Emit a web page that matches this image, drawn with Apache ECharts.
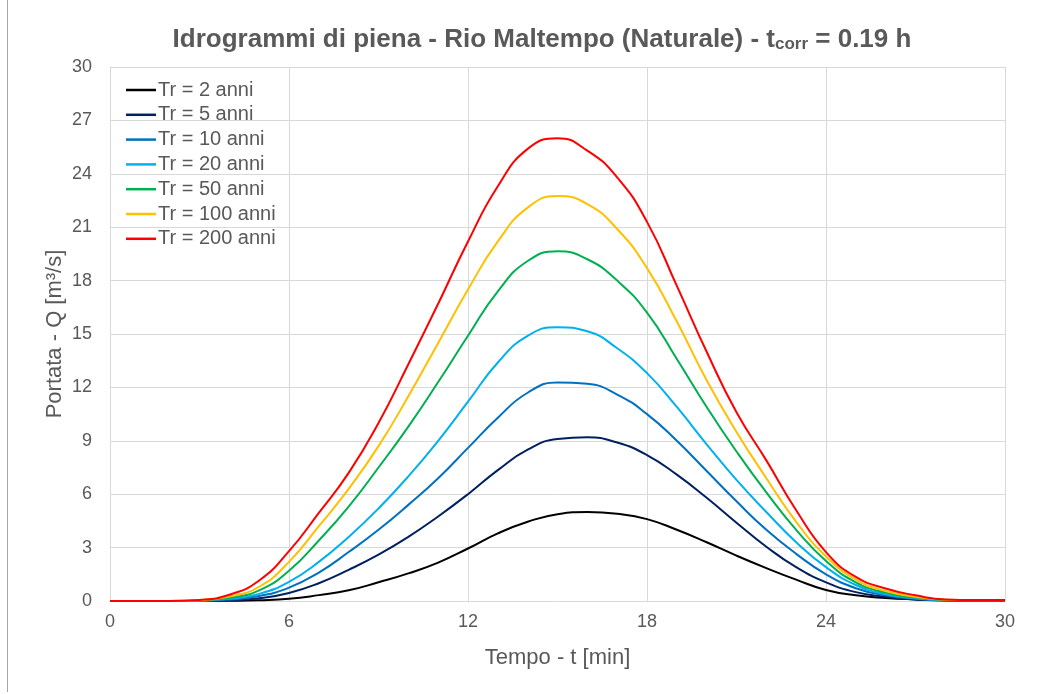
<!DOCTYPE html>
<html>
<head>
<meta charset="utf-8">
<script src="https://cdn.jsdelivr.net/npm/echarts@6/dist/echarts.min.js"></script>
<style>
html,body{margin:0;padding:0;background:#fff;}
#chart{width:1057px;height:694px;}
</style>
</head>
<body>
<div id="chart"></div>
<script>
// Time (min)
const tempo = [0,1,2,3,4,5,6,7,8,9,10,11,12,13,14,15,16,17,18,19,20,21,22,23,24,25,26,27,28,29,30];
// Discharge Q [m3/s] per return period
const tr2   = [0,0,0,0,0.01,0.04,0.12,0.33,0.6,1.05,1.55,2.16,2.95,3.8,4.45,4.88,5.0,4.9,4.6,4.0,3.3,2.55,1.85,1.2,0.62,0.32,0.17,0.09,0.04,0.03,0.03];
const tr5   = [0,0,0,0,0.04,0.15,0.45,1.0,1.75,2.6,3.6,4.75,6.0,7.35,8.5,9.1,9.2,8.9,8.2,7.1,5.8,4.4,3.05,1.9,1.05,0.5,0.24,0.09,0.03,0.03,0.03];
const tr10  = [0,0,0,0.01,0.08,0.28,0.75,1.6,2.75,4.0,5.4,6.9,8.6,10.3,11.7,12.28,12.2,11.6,10.5,9.0,7.3,5.6,4.0,2.65,1.5,0.72,0.32,0.13,0.04,0.03,0.03];
const tr20  = [0,0,0,0.02,0.12,0.4,1.08,2.2,3.6,5.2,7.0,9.0,11.2,13.4,14.9,15.38,15.15,14.2,12.8,10.9,8.8,6.8,5.0,3.3,1.9,0.9,0.38,0.15,0.05,0.04,0.04];
const tr50  = [0,0,0,0.04,0.18,0.6,1.7,3.4,5.3,7.5,9.8,12.3,14.9,17.4,19.1,19.65,19.2,18.0,16.2,13.6,10.9,8.4,6.1,4.0,2.25,1.05,0.47,0.19,0.06,0.05,0.05];
const tr100 = [0,0,0,0.05,0.25,0.8,2.2,4.2,6.3,8.7,11.5,14.5,17.5,20.2,22.1,22.75,22.3,20.9,18.7,15.7,12.4,9.5,6.9,4.45,2.5,1.2,0.56,0.24,0.07,0.05,0.05];
const tr200 = [0,0,0,0.06,0.35,1.15,2.8,4.95,7.2,10.0,13.3,16.7,20.2,23.3,25.4,26.0,25.3,23.8,21.3,17.7,14.0,10.6,7.9,5.1,2.75,1.35,0.7,0.32,0.08,0.05,0.05];

const seriesNames = ['Tr = 2 anni','Tr = 5 anni','Tr = 10 anni','Tr = 20 anni','Tr = 50 anni','Tr = 100 anni','Tr = 200 anni'];
const seriesData = [tr2,tr5,tr10,tr20,tr50,tr100,tr200];
const colors = ['#000000','#002060','#0070C0','#00B0F0','#00B050','#FFC000','#FF0000'];

const chart = echarts.init(document.getElementById('chart'), null, {renderer:'canvas'});
const grey = '#595959';
const font = 'Liberation Sans, Arial, sans-serif';

const series = seriesNames.map((n,i)=>({
  name:n,
  type:'line',
  data: tempo.map((t,j)=>[t, seriesData[i][j]]),
  smooth:0.5,
  showSymbol:false,
  symbol:'none',
  lineStyle:{width:2,color:colors[i]},
  itemStyle:{color:colors[i]},
  z: 2+i
}));

chart.setOption({
  animation:false,
  backgroundColor:'#ffffff',
  color:colors,
  title:{
    text:'{a|Idrogrammi di piena - Rio Maltempo (Naturale) - t}{b|corr}{a| = 0.19 h}',
    left:537, top:17, textAlign:'center',
    textStyle:{
      rich:{
        a:{fontFamily:font,fontWeight:'bold',fontSize:26,color:grey,verticalAlign:'bottom',lineHeight:31},
        b:{fontFamily:font,fontWeight:'bold',fontSize:17,color:grey,verticalAlign:'bottom',lineHeight:23}
      }
    }
  },
  legend:{
    orient:'vertical',
    left:121, top:75,
    icon:'rect',
    itemWidth:30, itemHeight:2.5,
    itemGap:4.8,
    textStyle:{fontFamily:font,fontSize:20,color:grey,lineHeight:20,padding:[0,0,0,-3]},
    data:seriesNames
  },
  grid:{left:110,right:52,top:67,bottom:93,containLabel:false},
  xAxis:{
    type:'value',min:0,max:30,interval:6,
    name:'Tempo - t [min]',nameLocation:'middle',nameGap:46,nameMoveOverlap:false,
    nameTextStyle:{fontFamily:font,fontSize:22,color:grey},
    axisLine:{show:true,lineStyle:{color:'#D9D9D9',width:1}},
    axisTick:{show:false},
    axisLabel:{fontFamily:font,fontSize:18,color:grey,margin:12},
    splitLine:{show:true,lineStyle:{color:'#D9D9D9',width:1}}
  },
  yAxis:{
    type:'value',min:0,max:30,interval:3,
    name:'Portata - Q [m³/s]',nameLocation:'middle',nameGap:44,nameMoveOverlap:false,
    nameTextStyle:{fontFamily:font,fontSize:22,color:grey},
    axisLine:{show:true,lineStyle:{color:'#D9D9D9',width:1}},
    axisTick:{show:false},
    axisLabel:{fontFamily:font,fontSize:18,color:grey,margin:18},
    splitLine:{show:true,lineStyle:{color:'#D9D9D9',width:1}}
  },
  graphic:[{
    type:'line',shape:{x1:7.5,y1:0,x2:7.5,y2:692},
    style:{stroke:'#A6A6A6',lineWidth:1}
  }],
  series:series
});
</script>
</body>
</html>
